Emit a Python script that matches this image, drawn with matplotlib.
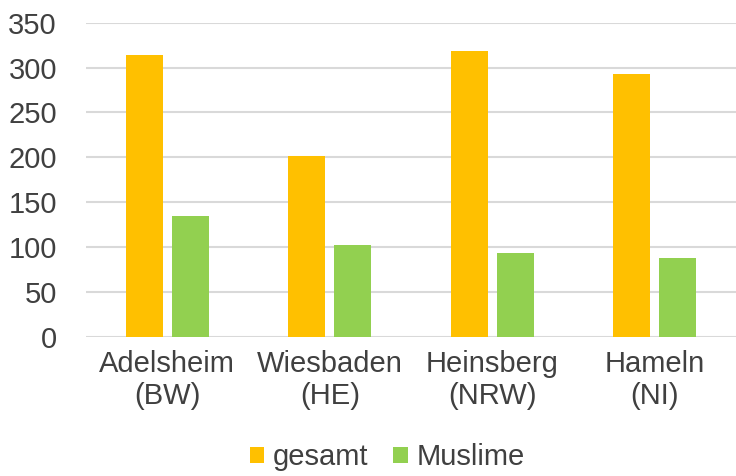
import matplotlib.pyplot as plt
import numpy as np

plt.rcParams['font.family'] = ['Liberation Sans', 'DejaVu Sans']

orte = ["Adelsheim\n(BW)", "Wiesbaden\n(HE)", "Heinsberg\n(NRW)", "Hameln\n(NI)"]
gesamt = [314, 201, 319, 293]
muslime = [135, 102, 93, 88]
yticks = [0, 50, 100, 150, 200, 250, 300, 350]

text_col = "#404040"

fig = plt.figure(figsize=(7.36, 4.76), dpi=100)
ax = fig.add_axes([0.117, 0.293, 0.883, 0.659])

x = np.arange(len(orte))
w = 0.227
off = 0.142
ax.bar(x - off, gesamt, w, color="#FFC000", label="gesamt", zorder=3)
ax.bar(x + off, muslime, w, color="#92D050", label="Muslime", zorder=3)

ax.set_xlim(-0.5, len(orte) - 0.5)
ax.set_ylim(0, 350)
ax.set_yticks(yticks)
ax.set_xticks(x)
ax.set_xticklabels(orte, linespacing=1.15)
ax.tick_params(axis="both", length=0, labelsize=21, colors=text_col)
ax.tick_params(axis="x", pad=10)
ax.tick_params(axis="y", pad=21)
ax.grid(axis="y", color="#D9D9D9", linewidth=1.5, zorder=0)
ax.set_axisbelow(True)
for s in ax.spines.values():
    s.set_visible(False)

leg = fig.legend(loc="lower center", bbox_to_anchor=(0.526, -0.045), ncol=2,
                 frameon=False, fontsize=21, handlelength=0.5, handleheight=0.5,
                 handletextpad=0.3, columnspacing=0.85)
for t in leg.get_texts():
    t.set_color(text_col)

plt.savefig("out.png", dpi=100)
